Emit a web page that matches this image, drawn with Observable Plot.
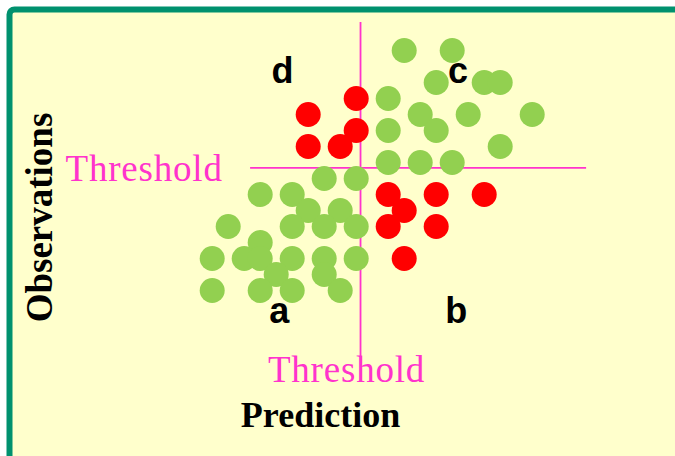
<!DOCTYPE html>
<html>
<head>
<meta charset="utf-8">
<script src="https://cdn.jsdelivr.net/npm/d3@7"></script>
<script src="https://cdn.jsdelivr.net/npm/@observablehq/plot@0.6"></script>
<style>
  html, body { margin: 0; padding: 0; background: #ffffff; overflow: hidden; }
</style>
</head>
<body>
<div id="chart"></div>
<script>
// Green points (correctly classified): prediction, observation
const greenPrediction = [12,15,14,17,18,11,13,16,20,11,14,18,11,13,15,
                         7,9,3,5,6,8,1,5,7,9,3,0,2,3,5,7,9,4,7,0,3,5,8];
const greenObservation = [15,15,13,13,13,12,11,11,11,10,10,9,8,8,8,
                          7,7,6,6,5,5,4,4,4,4,3,2,2,2,2,2,2,1,1,0,0,0,0];
// Red points (misclassified)
const redPrediction = [9,6,9,6,8, 11,14,17,12,11,14,12];
const redObservation = [12,11,10,9,9, 6,6,6,5,4,4,2];
// Thresholds
const thresholdPrediction = 9.27;
const thresholdObservation = 7.66;
// Quadrant labels
const quadrantNames = ["d", "c", "a", "b"];
const quadrantPrediction = [4.39, 15.36, 4.19, 15.26];
const quadrantObservation = [13, 13, -2.06, -2.06];

const green = greenPrediction.map((p, i) => ({p, o: greenObservation[i]}));
const red = redPrediction.map((p, i) => ({p, o: redObservation[i]}));
const quads = quadrantNames.map((t, i) => ({t, p: quadrantPrediction[i], o: quadrantObservation[i]}));

const pink = "#FF33CC";
const serif = "'Liberation Serif', 'Times New Roman', serif";
const sans = "'Liberation Sans', Arial, sans-serif";

const chart = Plot.plot({
  width: 675,
  height: 456,
  margin: 0,
  style: {background: "transparent", overflow: "visible"},
  x: {domain: [0, 20], range: [211.7, 531.7], axis: null},
  y: {domain: [0, 15], range: [290, 50], axis: null},
  marks: [
    Plot.frame({fill: "#FFFFCC", stroke: "#00916E", strokeWidth: 6, rx: 5,
                insetLeft: 9, insetTop: 9, insetRight: -20, insetBottom: -20}),
    Plot.ruleX([thresholdPrediction], {y1: 16.75, y2: -4.2, stroke: pink, strokeWidth: 1.8}),
    Plot.ruleY([thresholdObservation], {x1: 2.4, x2: 23.4, stroke: pink, strokeWidth: 1.8}),
    Plot.dot(green, {x: "p", y: "o", r: 12.5, fill: "#92D050", stroke: null}),
    Plot.dot(red, {x: "p", y: "o", r: 12.5, fill: "#FF0000", stroke: null}),
    Plot.text(quads, {x: "p", y: "o", text: "t", lineAnchor: "bottom",
                      fontFamily: sans, fontWeight: "bold", fontSize: 36, fill: "#000"}),
    Plot.text(["Threshold"], {x: -9.17, y: thresholdObservation, text: d => d, textAnchor: "start",
                      fontFamily: serif, fontSize: 37, fill: pink, dy: 1}),
    Plot.text(["Threshold"], {x: thresholdPrediction, y: -5.73, text: d => d, lineAnchor: "bottom",
                      dx: -14, fontFamily: serif, fontSize: 37, fill: pink}),
    Plot.text(["Prediction"], {frameAnchor: "bottom-left", dx: 320, dy: -29.3, text: d => d,
                      textAnchor: "middle", lineAnchor: "bottom",
                      fontFamily: serif, fontWeight: "bold", fontSize: 36, fill: "#000"}),
    Plot.text(["Observations"], {frameAnchor: "left", dx: 40, dy: -11, text: d => d, rotate: -90,
                      textAnchor: "middle", lineAnchor: "middle",
                      fontFamily: serif, fontWeight: "bold", fontSize: 37, fill: "#000"})
  ]
});
document.getElementById("chart").appendChild(chart);
// letter spacing for threshold labels
chart.querySelectorAll("text").forEach(t => {
  if (t.textContent === "Threshold") t.setAttribute("letter-spacing", "0.8");
});
</script>
</body>
</html>
